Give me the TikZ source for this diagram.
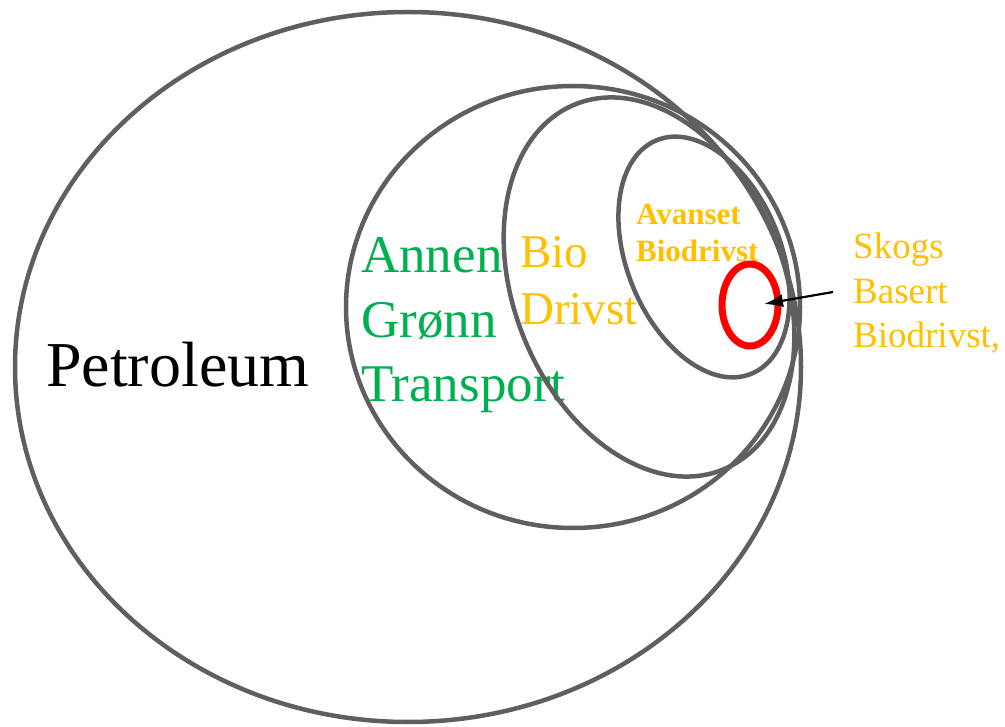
\documentclass[tikz,border=0pt]{standalone}
\usepackage{fontspec}
\setmainfont{Liberation Serif}
\usetikzlibrary{arrows.meta}
\definecolor{ringgray}{HTML}{5F5F5F}
\definecolor{greengreen}{HTML}{00B050}
\definecolor{bioyellow}{HTML}{FFC000}
\begin{document}
\begin{tikzpicture}[x=1pt,y=-1pt,
  ring/.style={draw=ringgray,line width=4.5pt},
  lbl/.style={anchor=base west,inner sep=0pt,align=left}]
  \useasboundingbox (0,0) rectangle (1005,727);
  % Petroleum
  \draw[ring] (408,367) ellipse [x radius=393,y radius=355];
  \node[lbl,font=\fontsize{64}{77}\selectfont] (petro) at (46,387) {Petroleum};
  % Annen groenn transport (anchored at last line)
  \draw[ring] (573,307) ellipse [x radius=227,y radius=221];
  \node[lbl,text=greengreen,font=\fontsize{53}{64.5}\selectfont] (annen) at (361,402)
    {Annen\\Grønn\\Transport};
  % Bio drivst
  \draw[ring,rotate around={22:(649,287)}] (649,287) ellipse [x radius=135,y radius=197];
  \node[lbl,text=bioyellow,font=\fontsize{47}{57}\selectfont] (bio) at (520,325)
    {Bio\\Drivst};
  % Avanset biodrivst
  \draw[ring,rotate around={22:(704,257)}] (704,257) ellipse [x radius=77,y radius=126];
  \node[lbl,text=bioyellow,font=\fontsize{31}{37}\selectfont\bfseries] (avanset) at (636,262)
    {Avanset\\Biodrivst};
  % Skogsbasert
  \draw[draw=red,line width=7pt] (750,305) ellipse [x radius=28,y radius=41];
  \node[lbl,text=bioyellow,font=\fontsize{37}{44.5}\selectfont] (skogs) at (853,348)
    {Skogs\\Basert\\Biodrivst,};
  \coordinate (tail) at (833,292);
  \coordinate (tip) at (764,304);
  \draw[-{Latex[length=19pt,width=13pt]},line width=2.2pt] (tail) -- (tip);
\end{tikzpicture}
\end{document}
